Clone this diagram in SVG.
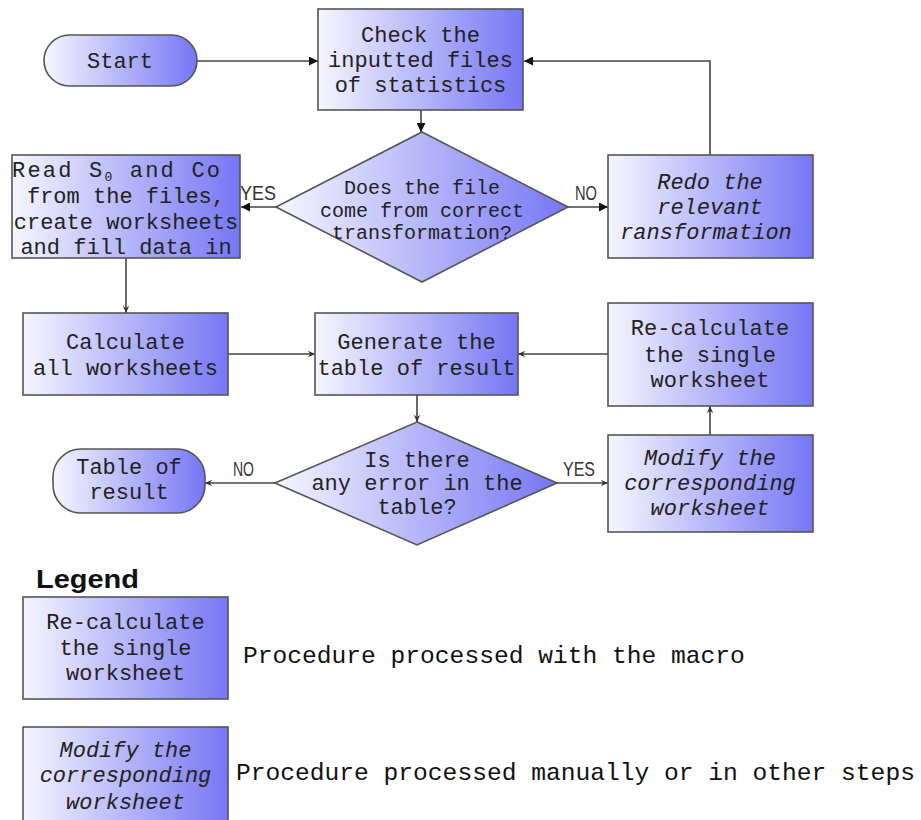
<svg xmlns="http://www.w3.org/2000/svg" width="921" height="820" viewBox="0 0 921 820">
<defs>
<linearGradient id="g" x1="0" y1="0" x2="1" y2="0">
<stop offset="0" stop-color="#f6f6ff"/>
<stop offset="1" stop-color="#7676f4"/>
</linearGradient>
<marker id="a" viewBox="0 0 10 10" refX="10" refY="5" markerWidth="9" markerHeight="9" markerUnits="userSpaceOnUse" orient="auto">
<path d="M0,0 L10,5 L0,10 Z" fill="#111"/>
</marker>
<marker id="b" viewBox="0 0 10 10" refX="10" refY="5" markerWidth="8" markerHeight="8" markerUnits="userSpaceOnUse" orient="auto">
<path d="M1,1 L10,5 L1,9 L4,5 Z" fill="#333"/>
</marker>
</defs>
<style>
.n{fill:url(#g);stroke:#555;stroke-width:1.6}
.t{font-family:"Liberation Mono","DejaVu Sans Mono",monospace;font-size:22px;fill:#222;text-anchor:middle}
.i{font-style:italic}
.s{font-size:20px}
.c{fill:none;stroke:#444;stroke-width:1.6}
.lb{font-family:"Liberation Sans",Arial,sans-serif;font-size:20px;fill:#333}
.lg{font-family:"Liberation Mono","DejaVu Sans Mono",monospace;font-size:24.6px;fill:#111}
</style>
<rect width="921" height="820" fill="#ffffff"/>

<g id="connectors">
<path class="c" d="M197,61 H318" marker-end="url(#a)"/>
<path class="c" d="M421,110 V132" marker-end="url(#a)"/>
<path class="c" d="M276,207 H241" marker-end="url(#a)"/>
<path class="c" d="M568,207 H608" marker-end="url(#a)"/>
<path class="c" d="M710,155 V61 H524" marker-end="url(#a)"/>
<path class="c" d="M126,258 V313" marker-end="url(#b)"/>
<path class="c" d="M228,354 H315" marker-end="url(#b)"/>
<path class="c" d="M608,354 H518" marker-end="url(#b)"/>
<path class="c" d="M417,395 V422" marker-end="url(#b)"/>
<path class="c" d="M275,483 H205" marker-end="url(#b)"/>
<path class="c" d="M557,483 H608" marker-end="url(#b)"/>
<path class="c" d="M710,435 V406" marker-end="url(#b)"/>
<text class="lb" x="240" y="200" textLength="36" lengthAdjust="spacingAndGlyphs">YES</text>
<text class="lb" x="575" y="200" textLength="22" lengthAdjust="spacingAndGlyphs">NO</text>
<text class="lb" x="233" y="476" textLength="21" lengthAdjust="spacingAndGlyphs">NO</text>
<text class="lb" x="563" y="476" textLength="32" lengthAdjust="spacingAndGlyphs">YES</text>
</g>

<g id="start">
<rect class="n" x="44" y="35" width="153" height="51" rx="25.5" ry="25.5"/>
<text class="t" x="120" y="68">Start</text>
</g>

<g id="check">
<rect class="n" x="318" y="9" width="205" height="101"/>
<text class="t" x="420.5" y="42">Check the</text>
<text class="t" x="420.5" y="67">inputted files</text>
<text class="t" x="420.5" y="92">of statistics</text>
</g>

<g id="decision1">
<polygon class="n" points="422,132 568,207 422,282 276,207"/>
<text class="t s" x="422" y="194">Does the file</text>
<text class="t s" x="422" y="217">come from correct</text>
<text class="t s" x="422" y="239">transformation?</text>
</g>

<g id="read">
<rect class="n" x="12" y="155" width="228" height="103"/>
<text class="t" x="116" y="177" textLength="208">Read S<tspan font-size="13" dy="4">0</tspan><tspan dy="-4">  and Co</tspan></text>
<text class="t" x="126" y="203">from the files,</text>
<text class="t" x="126" y="229">create worksheets</text>
<text class="t" x="126" y="254">and fill data in</text>
</g>

<g id="redo">
<rect class="n" x="608" y="155" width="205" height="103"/>
<text class="t i" x="710" y="189">Redo the</text>
<text class="t i" x="710" y="214">relevant</text>
<text class="t i" x="706" y="239">ransformation</text>
</g>

<g id="calculate">
<rect class="n" x="23" y="313" width="205" height="82"/>
<text class="t" x="125.5" y="349">Calculate</text>
<text class="t" x="125.5" y="375">all worksheets</text>
</g>

<g id="generate">
<rect class="n" x="315" y="313" width="203" height="82"/>
<text class="t" x="416.5" y="349">Generate the</text>
<text class="t" x="416.5" y="375">table of result</text>
</g>

<g id="recalc">
<rect class="n" x="608" y="303" width="205" height="103"/>
<text class="t" x="710" y="335">Re-calculate</text>
<text class="t" x="710" y="362">the single</text>
<text class="t" x="710" y="387">worksheet</text>
</g>

<g id="decision2">
<polygon class="n" points="417,422 557,483 417,545 275,483"/>
<text class="t" x="417" y="467">Is there</text>
<text class="t" x="417" y="490">any error in the</text>
<text class="t" x="417" y="514">table?</text>
</g>

<g id="table">
<rect class="n" x="53" y="449" width="152" height="64" rx="28" ry="28"/>
<text class="t" x="129" y="474">Table of</text>
<text class="t" x="129" y="499">result</text>
</g>

<g id="modify">
<rect class="n" x="608" y="435" width="205" height="97"/>
<text class="t i" x="710" y="465">Modify the</text>
<text class="t i" x="710" y="490">corresponding</text>
<text class="t i" x="710" y="515">worksheet</text>
</g>

<g id="legend">
<text x="36" y="588" font-family="Liberation Sans,Arial,sans-serif" font-weight="bold" font-size="25" fill="#111" textLength="103" lengthAdjust="spacingAndGlyphs">Legend</text>
<g id="legend-macro">
<rect class="n" x="23" y="597" width="205" height="102"/>
<text class="t" x="125.5" y="629">Re-calculate</text>
<text class="t" x="125.5" y="655">the single</text>
<text class="t" x="125.5" y="680">worksheet</text>
<text class="lg" x="243" y="663">Procedure processed with the macro</text>
</g>
<g id="legend-manual">
<rect class="n" x="23" y="727" width="205" height="110"/>
<text class="t i" x="125.5" y="757">Modify the</text>
<text class="t i" x="125.5" y="782">corresponding</text>
<text class="t i" x="125.5" y="809">worksheet</text>
<text class="lg" x="236" y="780">Procedure processed manually or in other steps</text>
</g>
</g>
</svg>
